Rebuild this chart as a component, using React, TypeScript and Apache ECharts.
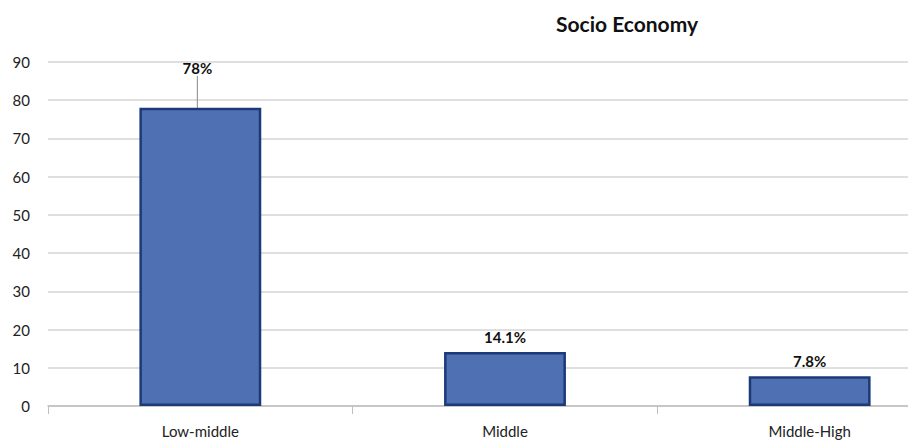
import React, { useEffect, useRef } from "react";
import * as echarts from "echarts";

const categories = ["Low-middle", "Middle", "Middle-High"];
const values = [78, 14.1, 7.8];
const labels = ["78%", "14.1%", "7.8%"];
const yTicks = { min: 0, max: 90, interval: 10 };
const title = "Socio Economy";

export default function App() {
  const ref = useRef<HTMLDivElement>(null);
  useEffect(() => {
    if (!ref.current) return;
    const chart = echarts.init(ref.current, null, { renderer: "svg" });
    const font = "Lato, 'Open Sans', sans-serif";
    chart.setOption({
      animation: false,
      backgroundColor: "#ffffff",
      title: {
        text: title,
        left: 622,
        top: 8,
        textAlign: "center",
        textStyle: { fontFamily: font, fontSize: 21, fontWeight: "bold", color: "#111" },
      },
      grid: { left: 48, top: 62, right: -54, height: 344, outerBoundsMode: "none", containLabel: false },
      xAxis: {
        type: "category",
        data: categories,
        axisLine: { show: true, lineStyle: { color: "#bfbfbf", width: 1.5 } },
        axisTick: { show: true, length: 8, lineStyle: { color: "#bfbfbf" } },
        axisLabel: { fontFamily: font, fontSize: 15, color: "#222", margin: 17 },
      },
      yAxis: {
        type: "value",
        min: yTicks.min,
        max: yTicks.max,
        interval: yTicks.interval,
        axisLine: { show: false },
        axisTick: { show: false },
        splitLine: { lineStyle: { color: "#d4d4d4", width: 1.5 } },
        axisLabel: { fontFamily: font, fontSize: 15, color: "#222", margin: 18 },
      },
      series: [
        {
          type: "bar",
          data: values.map((v, i) => ({
            value: v,
            labelLine: { show: i === 0, lineStyle: { color: "#888", width: 1 } },
          })),
          barWidth: "40%",
          itemStyle: { color: "#4f71b4", borderColor: "#1c3a78", borderWidth: 2.5 },
          label: {
            show: true,
            position: "top",
            distance: 8,
            fontFamily: font,
            fontSize: 15,
            fontWeight: "bold",
            color: "#111",
            formatter: (p: any) => labels[p.dataIndex],
          },
          labelLine: { show: false },
          labelLayout: (p: any) => (p.dataIndex === 0 ? { dy: -24, dx: -3 } : {}),
        },
      ],
    });
    return () => chart.dispose();
  }, []);
  return (
    <div
      ref={ref}
      style={{ position: "fixed", left: 0, top: 0, width: 908, height: 443 }}
    />
  );
}
